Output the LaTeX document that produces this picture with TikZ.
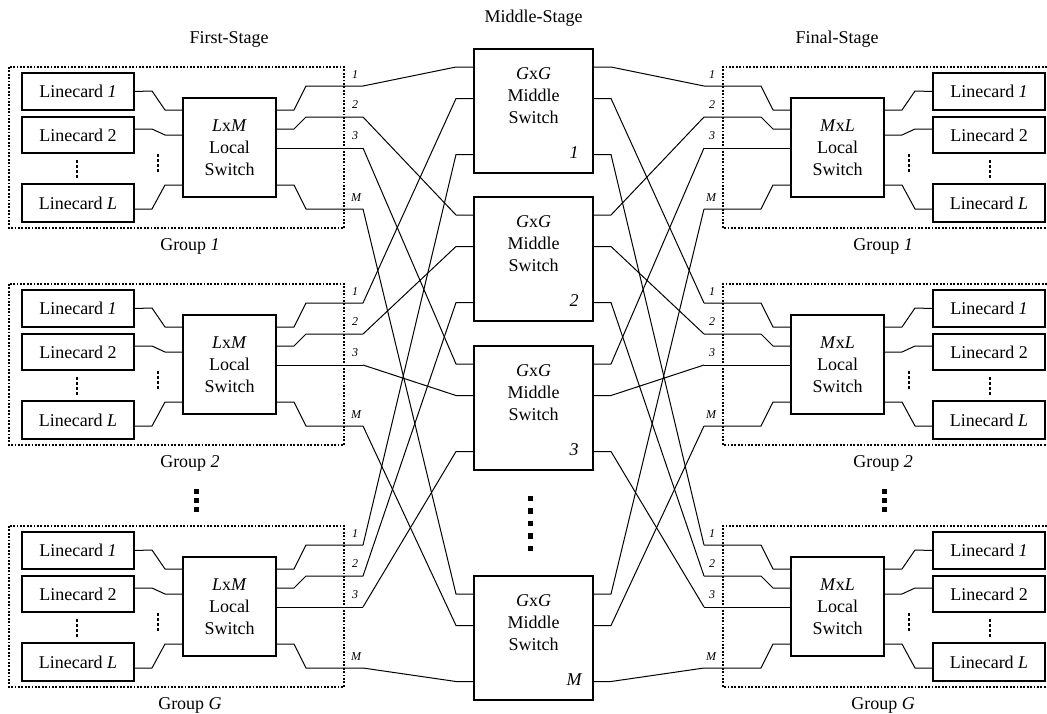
\documentclass[tikz,border=0pt]{standalone}
\usepackage{fontspec}
\setmainfont{Liberation Serif}
\newcommand\mx[1]{533.5+(\gsg)*(#1-533.5)}
\newcommand\stgroup[8]{%
 \def\gsg{#3}%
 \draw[grpbox] ({\mx{9}},{67+#2}) rectangle ({\mx{344}},{228+#2});
 \node[card] (#1a) at ({\mx{78}},{91.5+#2}) {Linecard \textit{1}};
 \node[card,minimum height=36pt] (#1b) at ({\mx{78}},{135+#2}) {Linecard 2};
 \node[card,minimum height=38pt] (#1c) at ({\mx{78}},{203+#2}) {Linecard \textit{L}};
 \node[lsw] (#1s) at ({\mx{229.5}},{147.5+#2}) {#4};
 \draw[smalldots] ({\mx{77}},{160+#2}) -- ({\mx{77}},{179+#2});
 \draw[smalldots] ({\mx{158}},{154+#2}) -- ({\mx{158}},{173+#2});
 \draw[wire] (#1a.#7) -- ({\mx{152}},{91+#2}) -- ({\mx{165}},{110+#2}) -- ([yshift=37.5pt]#1s.#8);
 \draw[wire] ([yshift=6pt]#1b.#7) -- ({\mx{152}},{129+#2}) -- ({\mx{165}},{135+#2}) -- ([yshift=12.5pt]#1s.#8);
 \draw[wire] ([yshift=-6pt]#1c.#7) -- ({\mx{152}},{209+#2}) -- ({\mx{165}},{185+#2}) -- ([yshift=-37.5pt]#1s.#8);
 \coordinate (#1p1) at ({\mx{363}},{86+#2});
 \coordinate (#1p2) at ({\mx{363}},{117+#2});
 \coordinate (#1p3) at ({\mx{363}},{148+#2});
 \coordinate (#1p4) at ({\mx{363}},{209+#2});
 \draw[wire] ([yshift=37.5pt]#1s.#7) -- ({\mx{294}},{110+#2}) -- ({\mx{306}},{86+#2}) -- (#1p1);
 \draw[wire] ([yshift=18.5pt]#1s.#7) -- ({\mx{294}},{129+#2}) -- ({\mx{306}},{117+#2}) -- (#1p2);
 \draw[wire] ([yshift=-0.5pt]#1s.#7) -- (#1p3);
 \draw[wire] ([yshift=-37.5pt]#1s.#7) -- ({\mx{294}},{185+#2}) -- ({\mx{306}},{209+#2}) -- (#1p4);
 \node[plab] (#1l1) at ({\mx{355}},{75+#2}) {1};
 \node[plab] (#1l2) at ({\mx{355}},{105+#2}) {2};
 \node[plab] (#1l3) at ({\mx{355}},{136+#2}) {3};
 \node[plab] (#1l4) at ({\mx{356}},{198+#2}) {M};
 \node[txt] (#1g) at (#6,{246+#2}) {#5};
}
\begin{document}
\begin{tikzpicture}[x=1pt,y=-1pt,
  every node/.style={inner sep=0pt,outer sep=0pt},
  card/.style={draw,line width=1.9pt,minimum width=112pt,minimum height=37pt,font=\fontsize{18}{21}\selectfont},
  lsw/.style={draw,line width=1.7pt,minimum width=93pt,minimum height=99pt,align=center,font=\fontsize{18}{22}\selectfont},
  msw/.style={draw,line width=1.7pt,minimum width=119pt,minimum height=124pt},
  mtxt/.style={align=center,font=\fontsize{18}{22}\selectfont},
  num/.style={font=\fontsize{18}{21}\selectfont\itshape},
  wire/.style={line width=1pt,line join=round},
  grpbox/.style={line width=1.8pt,dash pattern=on 1.8pt off 1.6pt},
  smalldots/.style={line width=2.6pt,dash pattern=on 2.6pt off 2.4pt},
  plab/.style={font=\fontsize{12}{14}\selectfont\itshape},
  txt/.style={font=\fontsize{18}{21}\selectfont}]
\useasboundingbox (0,0) rectangle (1047,713);
\clip (0,0) rectangle (1047,713);
% stage titles
\node[txt] (t1) at (229,39) {First-Stage};
\node[txt] (t2) at (533.5,18) {Middle-Stage};
\node[txt] (t3) at (837,39) {Final-Stage};
% groups
\stgroup{L1}{0}{1}{\textit{L}x\textit{M}\\Local\\Switch}{Group \textit{1}}{190}{east}{west}
\stgroup{L2}{217}{1}{\textit{L}x\textit{M}\\Local\\Switch}{Group \textit{2}}{190}{east}{west}
\stgroup{L3}{459}{1}{\textit{L}x\textit{M}\\Local\\Switch}{Group \textit{G}}{190}{east}{west}
\stgroup{R1}{0}{-1}{\textit{M}x\textit{L}\\Local\\Switch}{Group \textit{1}}{883}{west}{east}
\stgroup{R2}{217}{-1}{\textit{M}x\textit{L}\\Local\\Switch}{Group \textit{2}}{883}{west}{east}
\stgroup{R3}{459}{-1}{\textit{M}x\textit{L}\\Local\\Switch}{Group \textit{G}}{883}{west}{east}
% middle switches
\foreach \i/\top/\n in {1/49/1,2/197/2,3/346/3,4/576/M}{
  \node[msw] (m\i) at (533.5,{\top+62}) {};
  \node[mtxt] (m\i t) at (533.5,{\top+47}) {\textit{G}x\textit{G}\\Middle\\Switch};
  \node[num] (m\i n) at (574,{\top+104}) {\n};
}
% crossing wires
\foreach \g/\gy in {1/44,2/12.5,3/-43.5}{
  \foreach \p in {1,2,3,4}{
    \draw[wire] (L\g p\p) -- ([xshift=-18pt,yshift=\gy pt]m\p.west) -- ([yshift=\gy pt]m\p.west);
    \draw[wire] (R\g p\p) -- ([xshift=18pt,yshift=\gy pt]m\p.east) -- ([yshift=\gy pt]m\p.east);
  }
}
% ellipsis squares
\foreach \yy in {491.5,500.5,509.5}{
  \fill ({196-2.5},{\yy-2.5}) rectangle ++(5,5);
  \fill ({884-2.5},{\yy-2.5}) rectangle ++(5,5);
}
\foreach \yy in {498.5,511,523.5,536,548.5}{
  \fill ({530.5-2.8},{\yy-2.8}) rectangle ++(5.6,5.6);
}
\end{tikzpicture}
\end{document}
